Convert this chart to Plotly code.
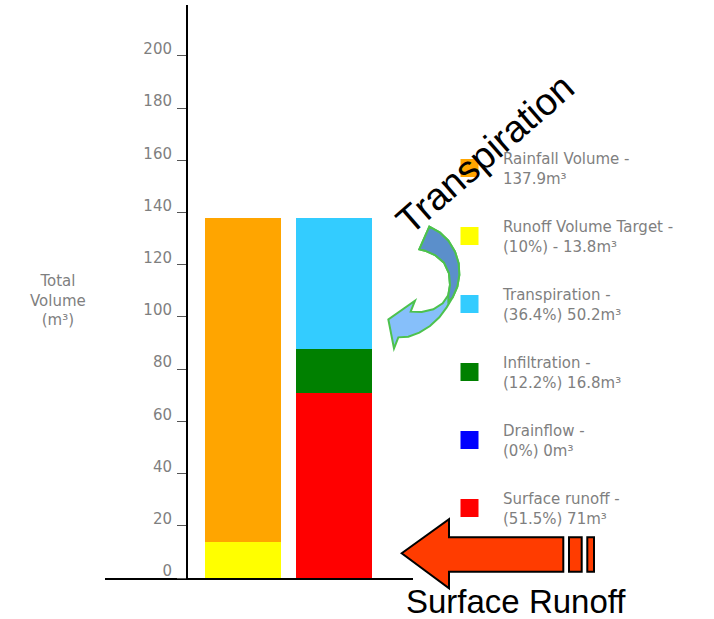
import plotly.graph_objects as go

# ---- data (m³) ----
categories = ["Rainfall", "Outflow"]
rainfall_volume = 137.9
runoff_target = 13.8

# outflow components, listed from the bottom of the stack upwards
components = ["Surface runoff", "Drainflow", "Infiltration", "Transpiration"]
component_values = [71, 0, 16.8, 50.2]
component_colors = ["#FF0000", "#0000FF", "#008000", "#33CCFF"]
component_rank = [6, 5, 4, 3]

y_ticks = [0, 20, 40, 60, 80, 100, 120, 140, 160, 180, 200]

# ---- layout geometry (pixels) ----
W, H = 714, 619
PL, PR, PT, PB = 105, 413, 5, 578          # plot area edges


def px(x):
    return (x - PL) / (PR - PL)


def py(y):
    return (PB - y) / (PB - PT)


def pct(v):
    return f"{round(v / rainfall_volume * 100, 1):g}"


def poly(points):
    return "M " + " L ".join(f"{px(x):.5f},{py(y):.5f}" for x, y in points) + " Z"


FONT = "DejaVu Sans, Verdana, sans-serif"
BIG_FONT = "Liberation Sans, Arial, sans-serif"
GREY = "#7f7f7f"
BAR_W = 0.84

fig = go.Figure()

# left column: target portion at the bottom, rest of rainfall above it
fig.add_bar(x=[categories[0]], y=[runoff_target], width=BAR_W,
            marker=dict(color="#FFFF00", line=dict(width=0)),
            legendgroup="target", showlegend=False, hoverinfo="skip")
fig.add_bar(x=[categories[0]], y=[rainfall_volume - runoff_target], width=BAR_W,
            marker=dict(color="#FFA500", line=dict(width=0)),
            legendgroup="rain", showlegend=False, hoverinfo="skip")

# right column: outflow components
for name, val, col in zip(components, component_values, component_colors):
    fig.add_bar(x=[categories[1]], y=[val], width=BAR_W,
                marker=dict(color=col, line=dict(width=0)),
                legendgroup=name, showlegend=False, hoverinfo="skip")

# legend entries (larger square keys)
legend_items = [
    ("rain", f"Rainfall Volume -<br>{rainfall_volume:g}m³", "#FFA500", 1),
    ("target", f"Runoff Volume Target -<br>({pct(runoff_target)}%) - {runoff_target:g}m³", "#FFFF00", 2),
]
for name, val, col, rk in zip(components, component_values, component_colors, component_rank):
    legend_items.append((name, f"{name} -<br>({pct(val)}%) {val:g}m³", col, rk))

for grp, label, col, rk in legend_items:
    fig.add_scatter(x=[None], y=[None], mode="markers", name=label,
                    legendgroup=grp, legendrank=rk,
                    marker=dict(symbol="square", size=16, color=col,
                                line=dict(color=col, width=2)))

# ---- decorative arrows ----
shapes = []

# curved blue arrow (light lower half, darker upper half)
def z6(pts):
    return [(380 + zx / 3, 220 + zy / 3) for zx, zy in pts]

arrow_full = z6([
    (148, 20), (180, 38), (205, 62), (225, 95), (236, 130), (238, 165), (232, 200),
    (218, 232), (200, 262), (178, 292), (150, 318), (118, 338), (85, 350), (55, 352),
    (42, 385), (25, 298), (105, 242), (92, 275),
    (125, 276), (160, 268), (188, 250), (205, 225), (210, 195), (207, 160),
    (192, 128), (165, 105), (135, 92), (118, 88),
])
arrow_dark = z6([
    (148, 20), (180, 38), (205, 62), (225, 95), (236, 130), (238, 165), (232, 200),
    (218, 232), (205, 245),
    (205, 225), (210, 195), (207, 160), (192, 128), (165, 105), (135, 92), (118, 88),
])
shapes.append(dict(type="path", xref="paper", yref="paper", path=poly(arrow_full),
                   fillcolor="#86BFFA", line=dict(color="#4DC24D", width=2)))
shapes.append(dict(type="path", xref="paper", yref="paper", path=poly(arrow_dark),
                   fillcolor="#5B8FCB", line=dict(color="#4DC24D", width=2)))

# block arrow pointing at the surface runoff column
red_arrow = [(401.7, 553.3), (449, 519.3), (449, 537.3), (563.3, 537.3),
             (563.3, 571.7), (449, 571.7), (449, 588.3)]
shapes.append(dict(type="path", xref="paper", yref="paper", path=poly(red_arrow),
                   fillcolor="#FF3C00", line=dict(color="black", width=2)))
for x0, x1 in [(569, 581.7), (587.3, 594)]:
    shapes.append(dict(type="rect", xref="paper", yref="paper",
                       x0=px(x0), x1=px(x1), y0=py(537.3), y1=py(571.7),
                       fillcolor="#FF3C00", line=dict(color="black", width=2)))

annotations = [
    dict(text="Total<br>Volume<br>(m³)", x=px(58), y=py(300), xref="paper", yref="paper",
         xanchor="center", yanchor="middle",
         showarrow=False, font=dict(family=FONT, size=15, color=GREY), align="center"),
    dict(text="Transpiration", x=px(485), y=py(154), xref="paper", yref="paper",
         xanchor="center", yanchor="middle",
         showarrow=False, textangle=-41,
         font=dict(family=BIG_FONT, size=38, color="black")),
    dict(text="Surface Runoff", x=px(516), y=py(601), xref="paper", yref="paper",
         xanchor="center", yanchor="middle",
         showarrow=False,
         font=dict(family=BIG_FONT, size=33, color="black")),
]

fig.update_layout(
    width=W, height=H,
    margin=dict(l=PL, r=W - PR, t=PT, b=H - PB, pad=0),
    paper_bgcolor="white", plot_bgcolor="white",
    barmode="stack",
    showlegend=True,
    legend=dict(x=px(436), y=py(142), xanchor="left", yanchor="top",
                traceorder="grouped", tracegroupgap=26, itemwidth=57,
                font=dict(family=FONT, size=15, color=GREY),
                bgcolor="rgba(0,0,0,0)"),
    xaxis=dict(type="category", categoryorder="array", categoryarray=categories,
               range=[-1.525, 1.878], showline=True, linecolor="black", linewidth=2,
               showticklabels=False, ticks="", showgrid=False, zeroline=False,
               fixedrange=True),
    yaxis=dict(range=[0, 219.5], anchor="free", position=px(187),
               showline=True, linecolor="black", linewidth=2,
               ticks="outside", ticklen=9, tickwidth=1, tickcolor="#555555",
               tickvals=y_ticks, ticklabelshift=-7, ticklabelstandoff=2,
               tickfont=dict(family=FONT, size=15, color=GREY),
               showgrid=False, zeroline=False, fixedrange=True),
    shapes=shapes,
    annotations=annotations,
)

fig.write_html("out.html")
